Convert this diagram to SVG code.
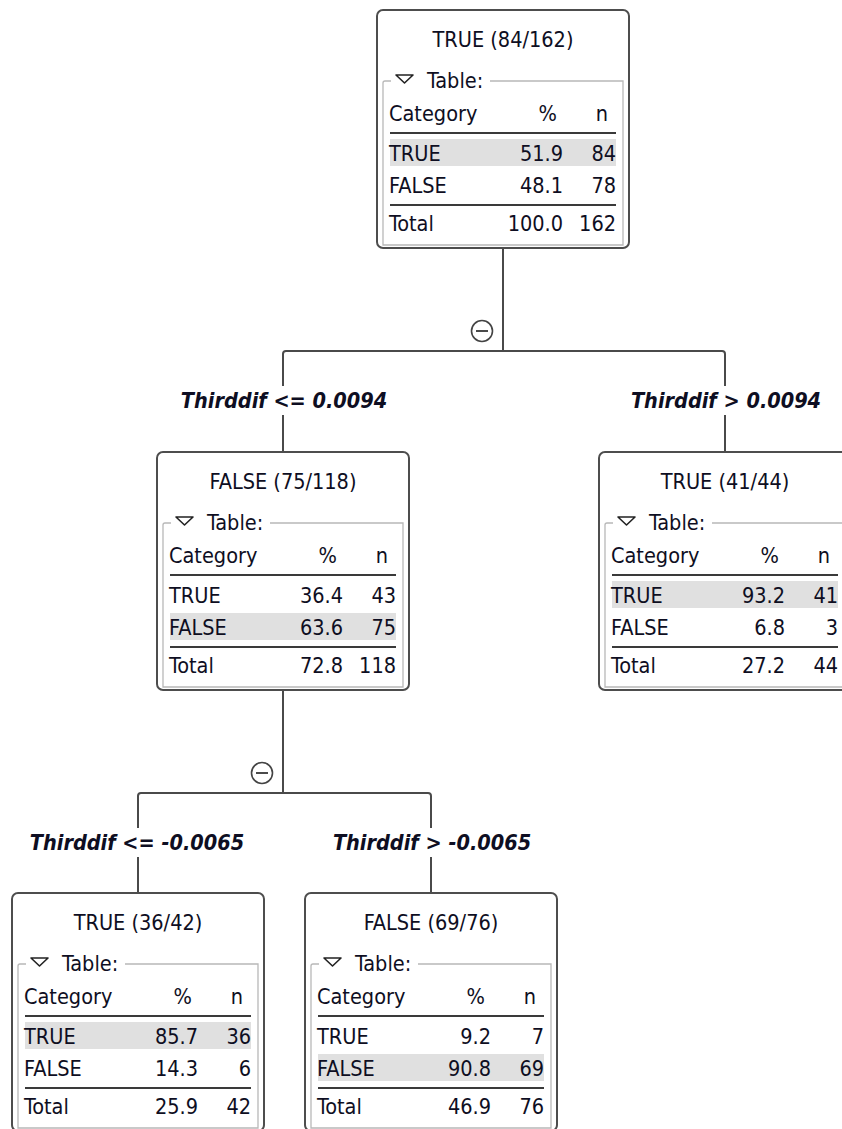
<svg xmlns="http://www.w3.org/2000/svg" width="842" height="1129" viewBox="0 0 842 1129">
<style>
.bg{fill:#fff}
.box{fill:#fff;stroke:#4d4d4d;stroke-width:2}
.grp{fill:none;stroke:#b8b8b8;stroke-width:1.3}
.hl{fill:#e0e0e0}
.rule{stroke:#3a3a3a;stroke-width:2}
.tri{fill:#fff;stroke:#222;stroke-width:1.6;stroke-linejoin:round}
.t{font-family:'DejaVu Sans Condensed','DejaVu Sans',sans-serif;font-stretch:condensed;font-size:21.5px;fill:#0e0e22}
.c{text-anchor:middle}
.r{text-anchor:end}
.lbl{font-family:'DejaVu Sans Condensed','DejaVu Sans',sans-serif;font-stretch:condensed;font-size:21.5px;font-weight:bold;font-style:italic;fill:#0e0e22;text-anchor:middle}
.conn{fill:none;stroke:#4a4a4a;stroke-width:2}
.tog{fill:#fff;stroke:#444;stroke-width:1.6}
</style>
<rect class="bg" x="0" y="0" width="842" height="1129"/>

<g id="connectors">
  <path class="conn" d="M503,248 V351 M283,386 V354 Q283,351 286,351 H722 Q725,351 725,354 V386 M283,415 V452 M725,415 V452"/>
  <circle class="tog" cx="482" cy="331" r="10.5"/>
  <path class="conn" d="M476,331 H488" stroke-width="1.6"/>
  <text class="lbl" x="284" y="408">Thirddif &lt;= 0.0094</text>
  <text class="lbl" x="726" y="408">Thirddif &gt; 0.0094</text>

  <path class="conn" d="M283,690 V793 M138,828 V796 Q138,793 141,793 H428 Q431,793 431,796 V828 M138,857 V893 M431,857 V893"/>
  <circle class="tog" cx="262" cy="773" r="10.5"/>
  <path class="conn" d="M256,773 H268" stroke-width="1.6"/>
  <text class="lbl" x="137" y="850">Thirddif &lt;= -0.0065</text>
  <text class="lbl" x="432" y="850">Thirddif &gt; -0.0065</text>
</g>

<g id="node-root" transform="translate(377,10)">
  <rect class="box" x="0" y="0" width="252" height="238" rx="6"/>
  <text class="t c" x="126" y="37">TRUE (84/162)</text>
  <path class="grp" d="M14,71 H8 Q6,71 6,73 V235 H246 V71 H113"/>
  <path class="tri" d="M19,65 H36 L27.5,73 Z"/>
  <text class="t" x="50" y="78">Table:</text>
  <text class="t" x="12" y="111">Category</text>
  <text class="t r" x="180" y="111">%</text>
  <text class="t r" x="231" y="111">n</text>
  <line class="rule" x1="13" y1="123" x2="239" y2="123"/>
  <rect class="hl" x="13" y="129" width="226" height="27"/>
  <text class="t" x="12" y="151">TRUE</text>
  <text class="t r" x="186" y="151">51.9</text>
  <text class="t r" x="239" y="151">84</text>
  <text class="t" x="12" y="183">FALSE</text>
  <text class="t r" x="186" y="183">48.1</text>
  <text class="t r" x="239" y="183">78</text>
  <line class="rule" x1="13" y1="195" x2="239" y2="195"/>
  <text class="t" x="12" y="221">Total</text>
  <text class="t r" x="186" y="221">100.0</text>
  <text class="t r" x="239" y="221">162</text>
</g>

<g id="node-left" transform="translate(157,452)">
  <rect class="box" x="0" y="0" width="252" height="238" rx="6"/>
  <text class="t c" x="126" y="37">FALSE (75/118)</text>
  <path class="grp" d="M14,71 H8 Q6,71 6,73 V235 H246 V71 H113"/>
  <path class="tri" d="M19,65 H36 L27.5,73 Z"/>
  <text class="t" x="50" y="78">Table:</text>
  <text class="t" x="12" y="111">Category</text>
  <text class="t r" x="180" y="111">%</text>
  <text class="t r" x="231" y="111">n</text>
  <line class="rule" x1="13" y1="123" x2="239" y2="123"/>
  <rect class="hl" x="13" y="161" width="226" height="27"/>
  <text class="t" x="12" y="151">TRUE</text>
  <text class="t r" x="186" y="151">36.4</text>
  <text class="t r" x="239" y="151">43</text>
  <text class="t" x="12" y="183">FALSE</text>
  <text class="t r" x="186" y="183">63.6</text>
  <text class="t r" x="239" y="183">75</text>
  <line class="rule" x1="13" y1="195" x2="239" y2="195"/>
  <text class="t" x="12" y="221">Total</text>
  <text class="t r" x="186" y="221">72.8</text>
  <text class="t r" x="239" y="221">118</text>
</g>

<g id="node-right" transform="translate(599,452)">
  <rect class="box" x="0" y="0" width="252" height="238" rx="6"/>
  <text class="t c" x="126" y="37">TRUE (41/44)</text>
  <path class="grp" d="M14,71 H8 Q6,71 6,73 V235 H246 V71 H113"/>
  <path class="tri" d="M19,65 H36 L27.5,73 Z"/>
  <text class="t" x="50" y="78">Table:</text>
  <text class="t" x="12" y="111">Category</text>
  <text class="t r" x="180" y="111">%</text>
  <text class="t r" x="231" y="111">n</text>
  <line class="rule" x1="13" y1="123" x2="239" y2="123"/>
  <rect class="hl" x="13" y="129" width="226" height="27"/>
  <text class="t" x="12" y="151">TRUE</text>
  <text class="t r" x="186" y="151">93.2</text>
  <text class="t r" x="239" y="151">41</text>
  <text class="t" x="12" y="183">FALSE</text>
  <text class="t r" x="186" y="183">6.8</text>
  <text class="t r" x="239" y="183">3</text>
  <line class="rule" x1="13" y1="195" x2="239" y2="195"/>
  <text class="t" x="12" y="221">Total</text>
  <text class="t r" x="186" y="221">27.2</text>
  <text class="t r" x="239" y="221">44</text>
</g>

<g id="node-ll" transform="translate(12,893)">
  <rect class="box" x="0" y="0" width="252" height="238" rx="6"/>
  <text class="t c" x="126" y="37">TRUE (36/42)</text>
  <path class="grp" d="M14,71 H8 Q6,71 6,73 V235 H246 V71 H113"/>
  <path class="tri" d="M19,65 H36 L27.5,73 Z"/>
  <text class="t" x="50" y="78">Table:</text>
  <text class="t" x="12" y="111">Category</text>
  <text class="t r" x="180" y="111">%</text>
  <text class="t r" x="231" y="111">n</text>
  <line class="rule" x1="13" y1="123" x2="239" y2="123"/>
  <rect class="hl" x="13" y="129" width="226" height="27"/>
  <text class="t" x="12" y="151">TRUE</text>
  <text class="t r" x="186" y="151">85.7</text>
  <text class="t r" x="239" y="151">36</text>
  <text class="t" x="12" y="183">FALSE</text>
  <text class="t r" x="186" y="183">14.3</text>
  <text class="t r" x="239" y="183">6</text>
  <line class="rule" x1="13" y1="195" x2="239" y2="195"/>
  <text class="t" x="12" y="221">Total</text>
  <text class="t r" x="186" y="221">25.9</text>
  <text class="t r" x="239" y="221">42</text>
</g>

<g id="node-lr" transform="translate(305,893)">
  <rect class="box" x="0" y="0" width="252" height="238" rx="6"/>
  <text class="t c" x="126" y="37">FALSE (69/76)</text>
  <path class="grp" d="M14,71 H8 Q6,71 6,73 V235 H246 V71 H113"/>
  <path class="tri" d="M19,65 H36 L27.5,73 Z"/>
  <text class="t" x="50" y="78">Table:</text>
  <text class="t" x="12" y="111">Category</text>
  <text class="t r" x="180" y="111">%</text>
  <text class="t r" x="231" y="111">n</text>
  <line class="rule" x1="13" y1="123" x2="239" y2="123"/>
  <rect class="hl" x="13" y="161" width="226" height="27"/>
  <text class="t" x="12" y="151">TRUE</text>
  <text class="t r" x="186" y="151">9.2</text>
  <text class="t r" x="239" y="151">7</text>
  <text class="t" x="12" y="183">FALSE</text>
  <text class="t r" x="186" y="183">90.8</text>
  <text class="t r" x="239" y="183">69</text>
  <line class="rule" x1="13" y1="195" x2="239" y2="195"/>
  <text class="t" x="12" y="221">Total</text>
  <text class="t r" x="186" y="221">46.9</text>
  <text class="t r" x="239" y="221">76</text>
</g>
</svg>
